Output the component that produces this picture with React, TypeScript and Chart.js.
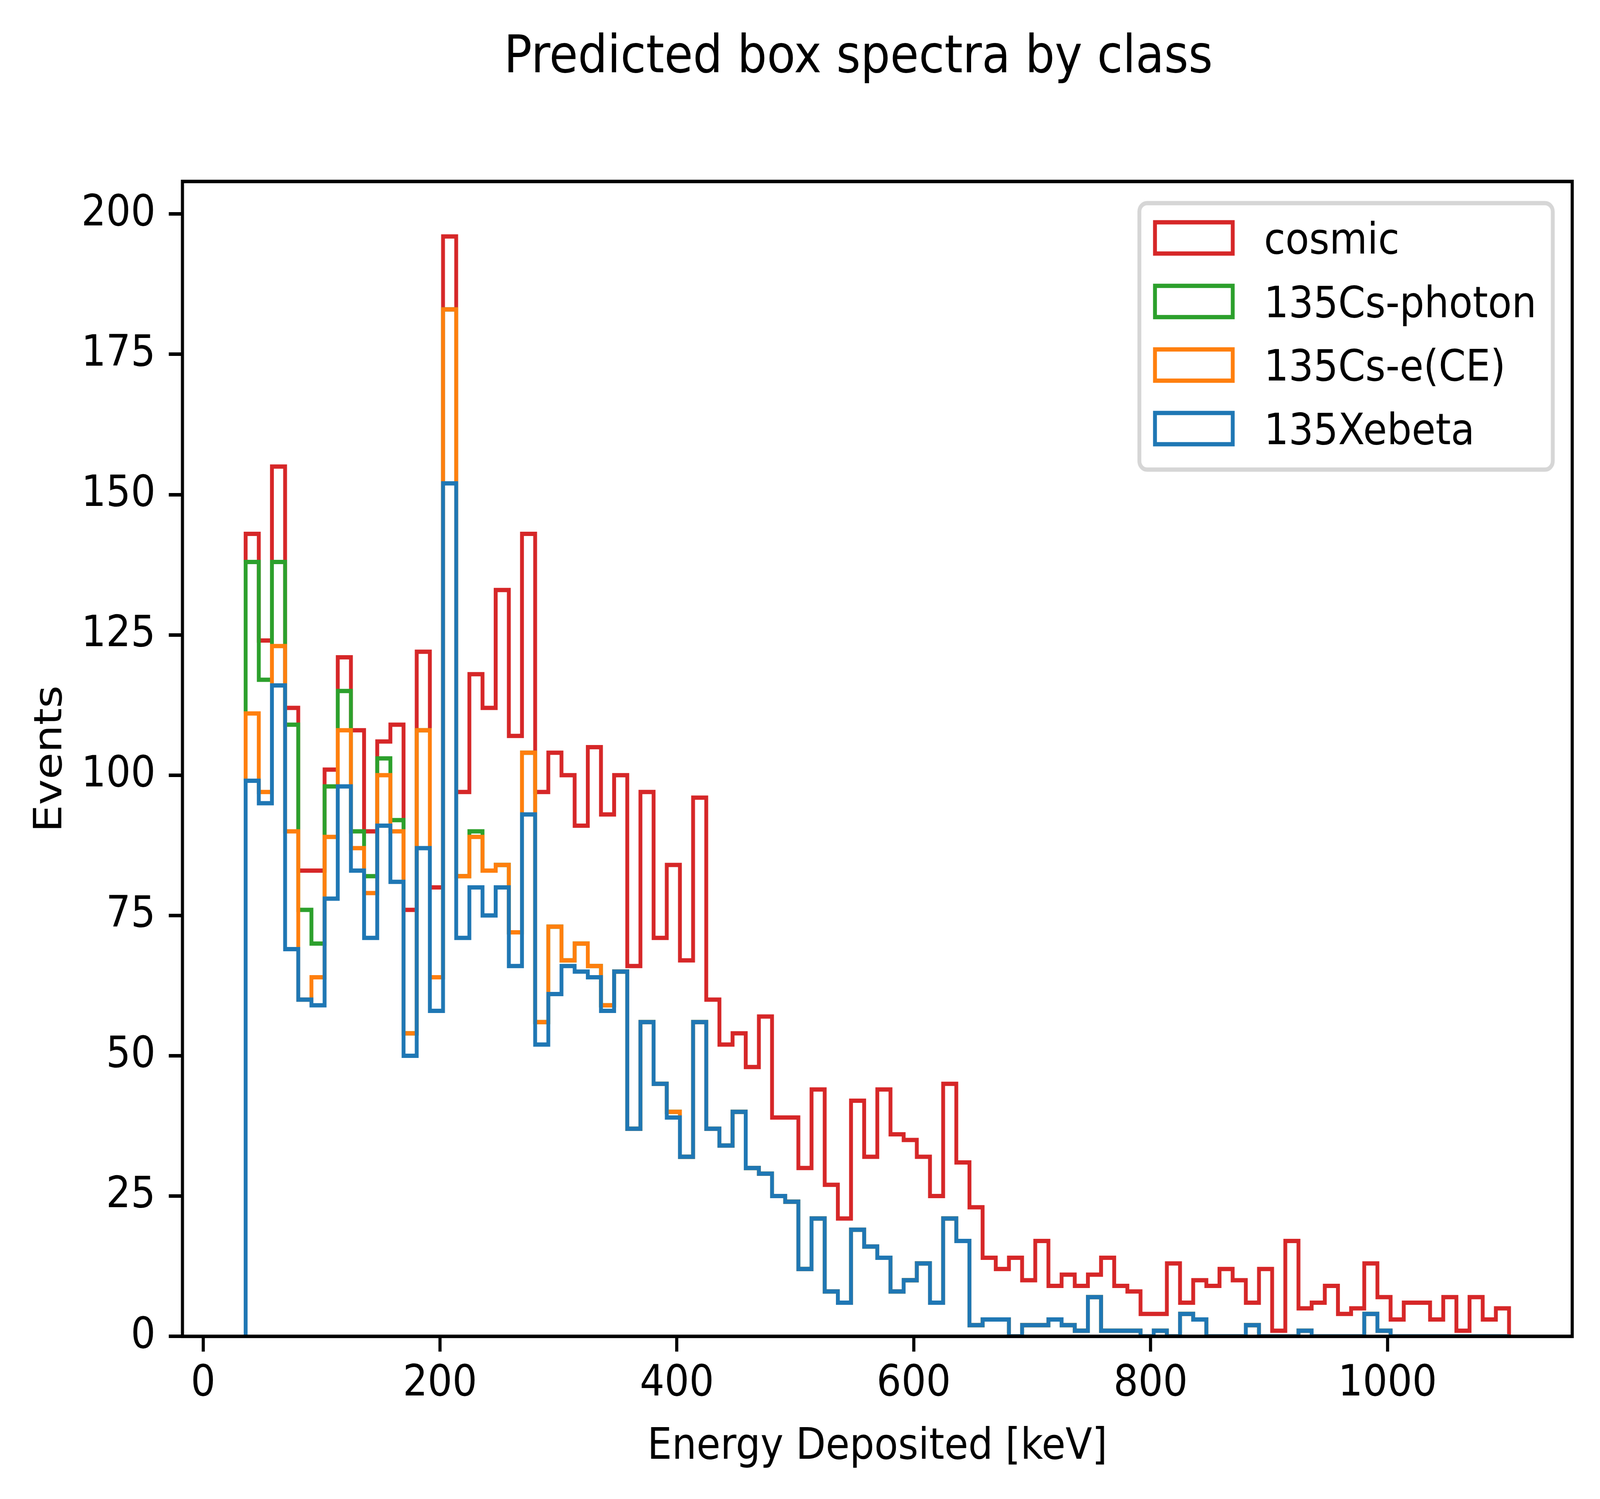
import { useEffect, useRef } from "react";
import { Chart, registerables } from "chart.js";

Chart.register(...registerables);

// reference picture size; the canvas is drawn at this size and stretched to the window
const W = 4569;
const H = 3837;
const FONT = "DejaVu Sans";

// histogram binning (96 equal bins between the data min and max)
const binLo = 35.9;
const binHi = 1102.6;
const nBins = 96;

// counts per bin, in stacking order (bottom first)
const xebeta = [
  99, 95, 116, 69, 60, 59, 78, 98, 83, 71,
  91, 81, 50, 87, 58, 152, 71, 80, 75, 80,
  66, 93, 52, 61, 66, 65, 64, 58, 65, 37,
  56, 45, 39, 32, 56, 37, 34, 40, 30, 29,
  25, 24, 12, 21, 8, 6, 19, 16, 14, 8,
  10, 13, 6, 21, 17, 2, 3, 3, 0, 2,
  2, 3, 2, 1, 7, 1, 1, 1, 0, 1,
  0, 4, 3, 0, 0, 0, 2, 0, 0, 0,
  1, 0, 0, 0, 0, 4, 1, 0, 0, 0,
  0, 0, 0, 0, 0, 0,
];
const csCE = [
  12, 2, 7, 21, 0, 5, 11, 10, 4, 8,
  9, 9, 4, 21, 6, 31, 11, 9, 8, 4,
  6, 11, 4, 12, 1, 5, 2, 1, 0, 0,
  0, 0, 1, 0, 0, 0, 0, 0, 0, 0,
  0, 0, 0, 0, 0, 0, 0, 0, 0, 0,
  0, 0, 0, 0, 0, 0, 0, 0, 0, 0,
  0, 0, 0, 0, 0, 0, 0, 0, 0, 0,
  0, 0, 0, 0, 0, 0, 0, 0, 0, 0,
  0, 0, 0, 0, 0, 0, 0, 0, 0, 0,
  0, 0, 0, 0, 0, 0,
];
const csPhoton = [
  27, 20, 15, 19, 16, 6, 9, 7, 3, 3,
  3, 2, 0, 0, 0, 0, 0, 1, 0, 0,
  0, 0, 0, 0, 0, 0, 0, 0, 0, 0,
  0, 0, 0, 0, 0, 0, 0, 0, 0, 0,
  0, 0, 0, 0, 0, 0, 0, 0, 0, 0,
  0, 0, 0, 0, 0, 0, 0, 0, 0, 0,
  0, 0, 0, 0, 0, 0, 0, 0, 0, 0,
  0, 0, 0, 0, 0, 0, 0, 0, 0, 0,
  0, 0, 0, 0, 0, 0, 0, 0, 0, 0,
  0, 0, 0, 0, 0, 0,
];
const cosmic = [
  5, 7, 17, 3, 7, 13, 3, 6, 18, 8,
  3, 17, 22, 14, 16, 13, 15, 28, 29, 49,
  35, 39, 41, 31, 33, 21, 39, 34, 35, 29,
  41, 26, 44, 35, 40, 23, 18, 14, 18, 28,
  14, 15, 18, 23, 19, 15, 23, 16, 30, 28,
  25, 19, 19, 24, 14, 21, 11, 9, 14, 8,
  15, 6, 9, 8, 4, 13, 8, 7, 4, 3,
  13, 2, 7, 9, 12, 10, 4, 12, 1, 17,
  4, 6, 9, 4, 5, 9, 6, 3, 6, 6,
  3, 7, 1, 7, 3, 5,
];

const seriesLabels = ["135Xebeta", "135Cs-e(CE)", "135Cs-photon", "cosmic"];
const seriesColors = ["#1f77b4", "#ff7f0e", "#2ca02c", "#d62728"];

const xTicks = [0, 200, 400, 600, 800, 1000];
const yTicks = [0, 25, 50, 75, 100, 125, 150, 175, 200];

const title = "Predicted box spectra by class";
const xLabel = "Energy Deposited [keV]";
const yLabel = "Events";

// stacked step outlines, like matplotlib hist(histtype="step", stacked=True)
function buildDatasets() {
  const edges = Array.from({ length: nBins + 1 }, (_, i) => binLo + ((binHi - binLo) * i) / nBins);
  const counts = [xebeta, csCE, csPhoton, cosmic];
  let bottom: number[] = new Array(nBins).fill(0);
  return counts.map((c, n) => {
    const top = c.map((v, i) => bottom[i] + v);
    const pts = [{ x: edges[0], y: bottom[0] }];
    top.forEach((v, i) => {
      pts.push({ x: edges[i], y: v }, { x: edges[i + 1], y: v });
    });
    pts.push({ x: edges[nBins], y: bottom[nBins - 1] });
    bottom = top;
    return {
      label: seriesLabels[n],
      data: pts,
      borderColor: seriesColors[n],
      borderWidth: 11,
      pointRadius: 0,
      fill: false,
      tension: 0,
    };
  });
}

const decor = {
  id: "decor",
  afterDatasetsDraw(chart: any) {
    const { ctx, chartArea: a } = chart;
    ctx.save();
    // axes frame
    ctx.strokeStyle = "#000";
    ctx.lineWidth = 8.9;
    ctx.strokeRect(a.left, a.top, a.right - a.left, a.bottom - a.top);

    // legend, upper right, reversed like matplotlib's stacked hist
    const lw = 1180.6;
    const lh = 682;
    const lx = a.right - 55.5 - lw;
    const ly = a.top + 55.5;
    ctx.beginPath();
    ctx.roundRect(lx, ly, lw, lh, 22);
    ctx.fillStyle = "rgba(255,255,255,0.8)";
    ctx.fill();
    ctx.strokeStyle = "#d6d6d6";
    ctx.lineWidth = 11;
    ctx.stroke();
    ctx.font = `111px "${FONT}"`;
    ctx.textAlign = "left";
    ctx.textBaseline = "alphabetic";
    const items = [...chart.data.datasets].reverse();
    items.forEach((ds: any, j: number) => {
      const cy = ly + 89 + j * 162.7;
      ctx.strokeStyle = ds.borderColor;
      ctx.lineWidth = 11;
      ctx.strokeRect(lx + 44.7, cy - 40, 222, 80);
      ctx.fillStyle = "#000";
      ctx.fillText(ds.label, lx + 356, cy + 40);
    });
    ctx.restore();
  },
  afterDraw(chart: any) {
    const { ctx, chartArea: a } = chart;
    ctx.save();
    ctx.fillStyle = "#000";
    ctx.textBaseline = "alphabetic";
    ctx.textAlign = "center";
    ctx.font = `133px "${FONT}"`;
    ctx.fillText(title, 2451, 185);
    ctx.font = `111px "${FONT}"`;
    ctx.fillText(xLabel, (a.left + a.right) / 2, 3734);
    ctx.translate(174.5, (a.top + a.bottom) / 2);
    ctx.rotate(-Math.PI / 2);
    ctx.fillText(yLabel, 0, 0);
    ctx.restore();
  },
};

export default function App() {
  const canvasRef = useRef<HTMLCanvasElement>(null);

  useEffect(() => {
    const canvas = canvasRef.current;
    if (!canvas) return;
    const span = binHi - binLo;
    const totals = xebeta.map((v, i) => v + csCE[i] + csPhoton[i] + cosmic[i]);
    const yMax = Math.max(...totals) * 1.05;
    const tickFont = { family: FONT, size: 111 };
    const grid = {
      drawOnChartArea: false,
      drawTicks: true,
      tickLength: 39,
      tickWidth: 8.9,
      tickColor: "#000",
      color: "#000",
      lineWidth: 8.9,
    };
    const chart = new Chart(canvas, {
      type: "line",
      data: { datasets: buildDatasets() as any },
      options: {
        animation: false,
        responsive: false,
        devicePixelRatio: 1,
        layout: { padding: { left: 0, right: W - 4489.6, top: 464.5, bottom: 0 } },
        plugins: {
          legend: { display: false },
          title: { display: false },
          tooltip: { enabled: false },
        },
        scales: {
          x: {
            type: "linear",
            min: binLo - 0.05 * span,
            max: binHi + 0.05 * span,
            afterBuildTicks: (s: any) => {
              s.ticks = xTicks.map((value) => ({ value }));
            },
            afterFit: (s: any) => {
              s.height = H - 3420.7;
            },
            grid,
            border: { display: false },
            ticks: {
              font: tickFont,
              color: "#000",
              padding: 17,
              maxRotation: 0,
              autoSkip: false,
              callback: (v: any) => String(v),
            },
          },
          y: {
            type: "linear",
            min: 0,
            max: yMax,
            afterBuildTicks: (s: any) => {
              s.ticks = yTicks.map((value) => ({ value }));
            },
            afterFit: (s: any) => {
              s.width = 521;
            },
            grid,
            border: { display: false },
            ticks: {
              font: tickFont,
              color: "#000",
              padding: 38,
              autoSkip: false,
              callback: (v: any) => String(v),
            },
          },
        },
      } as any,
      plugins: [decor],
    });
    return () => chart.destroy();
  }, []);

  // the window may be narrower than the reference, so the canvas is stretched to fill it
  return (
    <div style={{ position: "fixed", left: 0, top: 0, right: 0, bottom: 0, background: "#fff", overflow: "hidden" }}>
      <canvas
        ref={canvasRef}
        width={W}
        height={H}
        style={{ display: "block", width: "100%", height: "100%" }}
      />
    </div>
  );
}
